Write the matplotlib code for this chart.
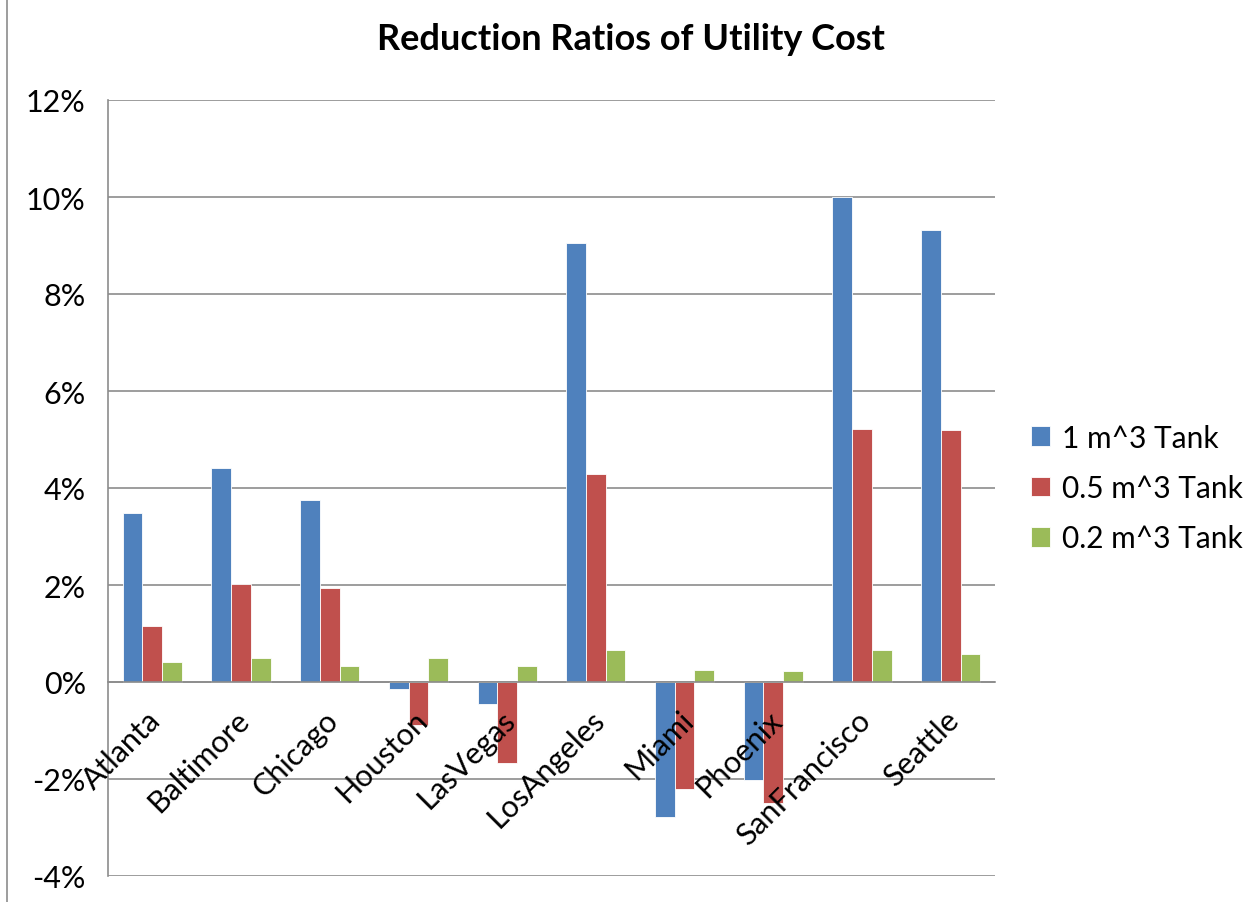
import matplotlib

matplotlib.use("Agg")
import matplotlib.pyplot as plt
import matplotlib.transforms as mtransforms
from matplotlib.lines import Line2D
from matplotlib.ticker import FuncFormatter
import numpy as np


cities = ["Atlanta", "Baltimore", "Chicago", "Houston", "LasVegas",
          "LosAngeles", "Miami", "Phoenix", "SanFrancisco", "Seattle"]
tank_1 = [3.48, 4.42, 3.75, -0.15, -0.45, 9.05, -2.79, -2.02, 10.0, 9.32]
tank_05 = [1.15, 2.03, 1.94, -0.89, -1.67, 4.28, -2.20, -2.50, 5.21, 5.20]
tank_02 = [0.42, 0.50, 0.32, 0.49, 0.32, 0.66, 0.25, 0.22, 0.67, 0.58]
series_names = ["1 m^3 Tank", "0.5 m^3 Tank", "0.2 m^3 Tank"]
colors = ["#4F81BD", "#C0504D", "#9BBB59"]

plt.rcParams["font.family"] = ["Lato", "DejaVu Sans"]

fig = plt.figure(figsize=(12.5, 9.03), dpi=100)
ax = fig.add_axes([108 / 1250, 26 / 903, 887 / 1250, 776 / 903])

x = np.arange(len(cities))
width = 1 / 4.5
for i, (vals, name, col) in enumerate(zip([tank_1, tank_05, tank_02], series_names, colors)):
    ax.bar(x + (i - 1) * width, vals, width, color=col, label=name,
           edgecolor="white", linewidth=0.6, zorder=2)

ax.set_xlim(-0.5, len(cities) - 0.5)
ax.set_ylim(-4, 12)
ax.set_yticks(np.arange(-4, 13, 2))
ax.yaxis.set_major_formatter(FuncFormatter(lambda v, p: f"{v:.0f}%"))
ax.set_axisbelow(True)
ax.grid(axis="y", color="#8c8c8c", linewidth=1.2)

for s in ["top", "right"]:
    ax.spines[s].set_visible(False)
ax.spines["left"].set_color("#8c8c8c")
ax.spines["left"].set_linewidth(1.2)
ax.spines["bottom"].set_position(("data", 0))
ax.spines["bottom"].set_color("#8c8c8c")
ax.spines["bottom"].set_linewidth(1.2)
ax.spines["bottom"].set_zorder(4)

ax.set_xticks(x)
ax.set_xticklabels(cities, rotation=45, ha="right", va="top", rotation_mode="anchor",
                   fontsize=22)
ax.tick_params(axis="x", length=0, pad=8)
ax.tick_params(axis="y", length=0, labelsize=22, pad=16)
# category labels are drawn over the bars, as in the original
ax.xaxis.set_zorder(5)
shift = mtransforms.ScaledTranslation(-6 / 100, -12 / 100, fig.dpi_scale_trans)
for lbl in ax.get_xticklabels():
    lbl.set_transform(lbl.get_transform() + shift)

fig.suptitle("Reduction Ratios of Utility Cost", x=0.505, y=0.975,
             fontsize=26, fontweight="bold")

ax.legend(loc="center left", bbox_to_anchor=(1.02, 0.5), frameon=False,
          fontsize=21.5, handlelength=0.65, handleheight=0.65, labelspacing=0.75,
          handletextpad=0.4, borderaxespad=0.2)

fig.add_artist(Line2D([7 / 1250, 7 / 1250], [0, 1], color="#8c8c8c", linewidth=1.2))

fig.savefig("out.png", dpi=100)
